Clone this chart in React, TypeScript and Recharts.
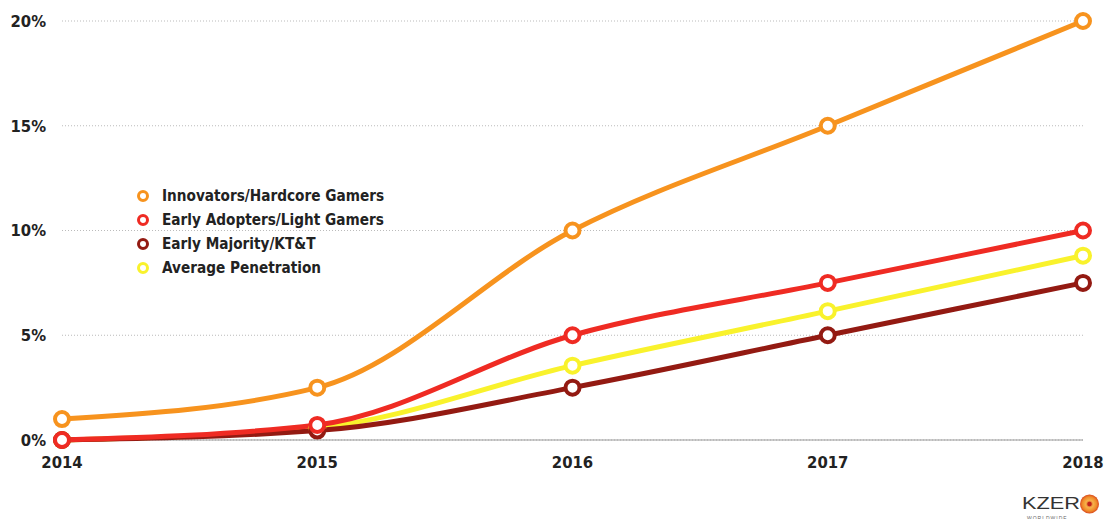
import React from "react";
import { LineChart, Line, XAxis, YAxis, CartesianGrid, ReferenceLine } from "recharts";

const years = [2014, 2015, 2016, 2017, 2018];
const innovators = [1, 2.5, 10, 15, 20];
const earlyAdopters = [0, 0.72, 5, 7.5, 10];
const earlyMajority = [0, 0.45, 2.5, 5, 7.5];
const averagePenetration = [0, 0.58, 3.55, 6.15, 8.8];
const yTicks = [0, 5, 10, 15, 20];

const seriesInfo = [
  { key: "innovators", name: "Innovators/Hardcore Gamers", color: "#F7931E" },
  { key: "earlyAdopters", name: "Early Adopters/Light Gamers", color: "#EF2B23" },
  { key: "earlyMajority", name: "Early Majority/KT&T", color: "#931A12" },
  { key: "average", name: "Average Penetration", color: "#F9F22C" },
];

const data = years.map((y, i) => ({
  year: y,
  innovators: innovators[i],
  earlyAdopters: earlyAdopters[i],
  earlyMajority: earlyMajority[i],
  average: averagePenetration[i],
}));

const FONT = "'Liberation Sans Narrow', 'DejaVu Sans Condensed', 'Roboto Condensed', sans-serif";

const LegendBox = () => (
  <div
    style={{
      position: "absolute",
      left: 134,
      top: 184,
      fontFamily: FONT,
      fontWeight: 700,
      fontSize: 15.2,
      color: "#222",
      lineHeight: "24px",
    }}
  >
    {seriesInfo.map((s) => (
      <div key={s.key} style={{ display: "flex", alignItems: "center", height: 24 }}>
        <svg width={22} height={14} style={{ marginRight: 6 }}>
          <circle cx={9} cy={7} r={4.5} fill="#fff" stroke={s.color} strokeWidth={3} />
        </svg>
        <span>{s.name}</span>
      </div>
    ))}
  </div>
);

const Logo = () => (
  <svg width={92} height={34} style={{ position: "absolute", left: 1018, top: 486 }}>
    <defs>
      <radialGradient id="lg" cx="50%" cy="50%" r="50%">
        <stop offset="0%" stopColor="#D6261C" />
        <stop offset="40%" stopColor="#F6B24A" />
        <stop offset="75%" stopColor="#F08A2A" />
        <stop offset="100%" stopColor="#D94A1E" />
      </radialGradient>
    </defs>
    <text x={4} y={23} fontFamily="'Liberation Sans', Arial, sans-serif" fontSize={17} fill="#333" textLength={58} lengthAdjust="spacingAndGlyphs">KZER</text>
    <circle cx={71.5} cy={18} r={9.5} fill="url(#lg)" />
    <circle cx={71.5} cy={18} r={2.2} fill="#C0201A" />
    <text x={9} y={33.5} fontFamily="'Liberation Sans', Arial, sans-serif" fontSize={5} fill="#666" letterSpacing={1}>WORLDWIDE</text>
  </svg>
);

export default function App() {
  return (
    <div style={{ position: "absolute", left: 0, top: 0, width: 1107, height: 519, background: "#fff" }}>
      <LineChart width={1107} height={519} data={data} margin={{ top: 21, right: 24, bottom: 49, left: 0 }}>
        <CartesianGrid vertical={false} stroke="#bbb" strokeDasharray="1 2" />
        <XAxis
          dataKey="year"
          type="number"
          domain={[2014, 2018]}
          ticks={years}
          axisLine={false}
          tickLine={false}
          tickMargin={10}
          tick={{ fontFamily: FONT, fontWeight: 700, fontSize: 16.5, fill: "#222" }}
        />
        <YAxis
          width={62}
          domain={[0, 20]}
          ticks={yTicks}
          axisLine={false}
          tickLine={false}
          tickSize={0}
          tickMargin={16}
          tickFormatter={(v: number) => `${v}%`}
          tick={{ fontFamily: FONT, fontWeight: 700, fontSize: 16.5, fill: "#222" }}
        />
        <ReferenceLine y={0} stroke="#999" strokeWidth={1} />
        {[...seriesInfo].reverse().map((s) => (
          <Line
            key={s.key}
            type="monotone"
            dataKey={s.key}
            name={s.name}
            stroke={s.color}
            strokeWidth={5}
            dot={{ r: 7, fill: "#fff", stroke: s.color, strokeWidth: 4 }}
            activeDot={false}
            isAnimationActive={false}
          />
        ))}
      </LineChart>
      <LegendBox />
      <Logo />
    </div>
  );
}
